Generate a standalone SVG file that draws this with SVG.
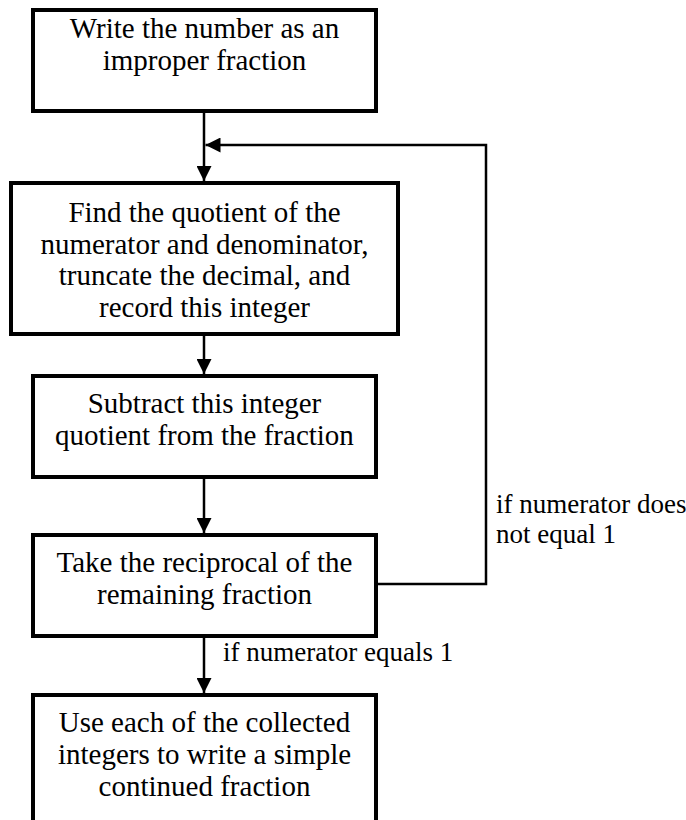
<svg xmlns="http://www.w3.org/2000/svg" width="686" height="820" viewBox="0 0 686 820">
<defs>
<marker id="ah" markerWidth="15" markerHeight="15" viewBox="0 0 15 15" refX="15" refY="7.5" orient="auto" markerUnits="userSpaceOnUse">
<path d="M0,0 L15,7.5 L0,15 Z" fill="#000"/>
</marker>
</defs>
<rect width="686" height="820" fill="#fff"/>
<g id="connectors" fill="none" stroke="#000" stroke-width="2.5">
<line x1="204" y1="112" x2="204" y2="181" marker-end="url(#ah)"/>
<line x1="204" y1="335" x2="204" y2="374" marker-end="url(#ah)"/>
<line x1="204" y1="478" x2="204" y2="533" marker-end="url(#ah)"/>
<line x1="204" y1="637" x2="204" y2="693" marker-end="url(#ah)"/>
<polyline points="377,584 486,584 486,145 205.5,145" marker-end="url(#ah)"/>
</g>
<g id="labels" font-family="Liberation Serif" font-size="27" fill="#000">
<text x="496" y="513">if numerator does</text>
<text x="496" y="543">not equal 1</text>
<text x="223" y="661">if numerator equals 1</text>
</g>
<g font-family="Liberation Serif" font-size="29" text-anchor="middle" fill="#000">
<g id="n1">
<rect x="33" y="10" width="343" height="101" fill="#fff" stroke="#000" stroke-width="4"/>
<text x="204.5" y="38">Write the number as an</text>
<text x="204.5" y="70">improper fraction</text>
</g>
<g id="n2">
<rect x="11" y="183" width="387" height="151" fill="#fff" stroke="#000" stroke-width="4"/>
<text x="204.5" y="222">Find the quotient of the</text>
<text x="204.5" y="254">numerator and denominator,</text>
<text x="204.5" y="285">truncate the decimal, and</text>
<text x="204.5" y="317">record this integer</text>
</g>
<g id="n3">
<rect x="33" y="376" width="343" height="101" fill="#fff" stroke="#000" stroke-width="4"/>
<text x="204.5" y="413">Subtract this integer</text>
<text x="204.5" y="445">quotient from the fraction</text>
</g>
<g id="n4">
<rect x="33" y="535" width="343" height="101" fill="#fff" stroke="#000" stroke-width="4"/>
<text x="204.5" y="572">Take the reciprocal of the</text>
<text x="204.5" y="604">remaining fraction</text>
</g>
<g id="n5">
<rect x="33" y="695" width="343" height="140" fill="#fff" stroke="#000" stroke-width="4"/>
<text x="204.5" y="732">Use each of the collected</text>
<text x="204.5" y="764">integers to write a simple</text>
<text x="204.5" y="796">continued fraction</text>
</g>
</g>
</svg>
